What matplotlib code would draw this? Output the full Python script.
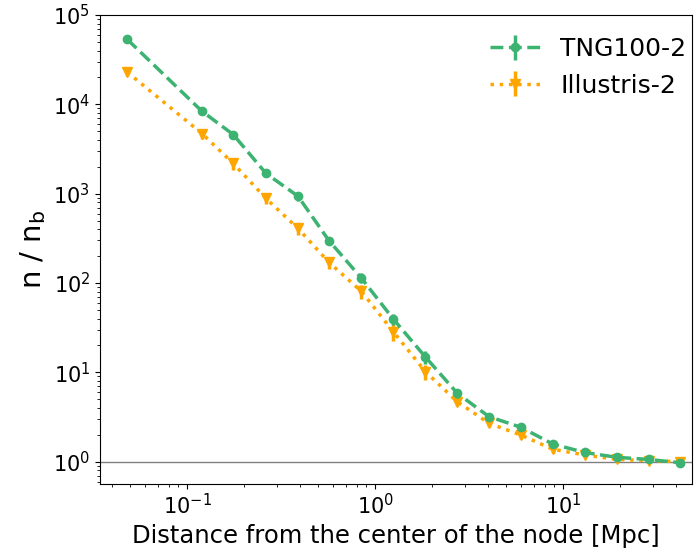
import matplotlib
matplotlib.use("Agg")
import matplotlib.pyplot as plt
import numpy as np

# distance bins [Mpc]
dist = [0.048, 0.120, 0.176, 0.263, 0.389, 0.569, 0.844, 1.25, 1.85, 2.74,
        4.04, 5.96, 8.8, 13.0, 19.3, 28.5, 41.8]

tng = [53500, 8370, 4590, 1683, 938, 297, 114, 39.5, 14.9, 5.82,
       3.19, 2.43, 1.58, 1.27, 1.12, 1.06, 0.975]
tng_err = [3000, 700, 500, 150, 100, 30, 15, 6, 2.5, 0.6,
           0.3, 0.2, 0.1, 0.06, 0.04, 0.03, 0.02]

ill = [23000, 4710, 2180, 884, 408, 170, 81, 28.5, 10.2, 4.69,
       2.69, 1.99, 1.38, 1.19, 1.06, 1.03, 1.0]
ill_err = [2000, 600, 350, 120, 60, 25, 15, 6, 2, 0.5,
           0.25, 0.2, 0.12, 0.07, 0.05, 0.04, 0.03]

fig = plt.figure(figsize=(6.99, 5.56), dpi=100)
ax = fig.add_axes([0.143, 0.130, 0.847, 0.843])

ax.axhline(1.0, color="grey", lw=1, zorder=1)
ax.errorbar(dist, tng, yerr=tng_err, color="mediumseagreen", ls="--", lw=2.5,
            marker="o", ms=6, label="TNG100-2", zorder=3)
ax.errorbar(dist, ill, yerr=ill_err, color="orange", ls=":", lw=2.5,
            marker="v", ms=7, label="Illustris-2", zorder=2)

ax.set_xscale("log")
ax.set_yscale("log")
ax.set_xlim(0.0344, 48.5)
ax.set_ylim(0.567, 1e5)
ax.tick_params(labelsize=15)
ax.set_xlabel("Distance from the center of the node [Mpc]", fontsize=17.5)
ax.set_ylabel(r"n / n$_{\rm b}$", fontsize=21)
ax.legend(loc="upper right", bbox_to_anchor=(1.02, 0.99), fontsize=18,
          frameon=False, handlelength=2.0, borderaxespad=0.3)

fig.savefig("out.png", dpi=100)
